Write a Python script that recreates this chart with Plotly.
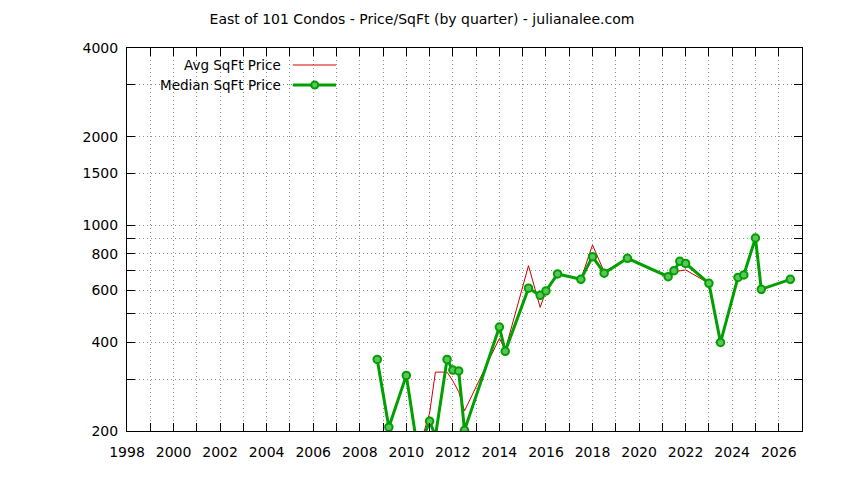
import plotly.graph_objects as go

# Quarter dates (decimal years) and price per sqft
quarters = [2008.75, 2009.25, 2010.0, 2010.5, 2011.0, 2011.25, 2011.75, 2012.0,
            2012.25, 2012.5, 2014.0, 2014.25, 2015.25, 2015.75, 2016.0, 2016.5,
            2017.5, 2018.0, 2018.5, 2019.5, 2021.25, 2021.5, 2021.75, 2022.0,
            2023.0, 2023.5, 2024.25, 2024.5, 2025.0, 2025.25, 2026.5]
median_price = [350, 206, 309, 170, 216, 192, 350, 322, 320, 201, 451, 373,
                611, 578, 598, 683, 655, 782, 687, 772, 669, 701, 754, 742,
                635, 400, 665, 678, 905, 606, 655]
avg_price = [350, 206, 309, 170, 230, 317, 317, 296, 272, 234, 413, 377,
             729, 526, 598, 683, 655, 857, 695, 772, 672, 692, 700, 705,
             635, 400, 665, 678, 905, 606, 655]

# tick labels
year_ticks = list(range(1998, 2028))
year_labels = [str(y) if y % 2 == 0 and y < 2027 else "" for y in year_ticks]
y_ticks = [200, 300, 400, 500, 600, 700, 800, 900, 1000, 1500, 2000, 3000, 4000]
y_labels = ["200", "", "400", "", "600", "", "800", "", "1000", "1500", "2000", "", "4000"]

FONT = "DejaVu Sans"
red = "#d40000"
green = "#00a000"

fig = go.Figure()

fig.add_trace(go.Scatter(
    x=quarters, y=avg_price, mode="lines", name="Avg SqFt Price",
    line=dict(color=red, width=1), showlegend=False,
))
fig.add_trace(go.Scatter(
    x=quarters, y=median_price, mode="lines+markers", name="Median SqFt Price",
    line=dict(color=green, width=3),
    marker=dict(size=7.5, color="#5cc45c", line=dict(color=green, width=2)),
    showlegend=False,
))

# gnuplot-style key: text on the left, sample on the right
key_rows = [("Avg SqFt Price", red, 1, False, 0.9556),
            ("Median SqFt Price", green, 3, True, 0.9034)]
for label, col, w, pt, ky in key_rows:
    fig.add_annotation(x=0.2313, y=ky, xref="paper", yref="paper", text=label,
                       showarrow=False, xanchor="right", yanchor="middle",
                       font=dict(family=FONT, size=13.5, color="black"))
    fig.add_shape(type="line", xref="paper", yref="paper", x0=0.2456, x1=0.3098,
                  y0=ky, y1=ky, line=dict(color=col, width=w))
    if pt:
        fig.add_shape(type="circle", xref="paper", yref="paper",
                      x0=0.2781 - 0.0052, x1=0.2781 + 0.0052,
                      y0=ky - 0.0091, y1=ky + 0.0091,
                      fillcolor="#5cc45c", line=dict(color=green, width=2))

# page body has an 8px margin, so the figure is sized to fit the window
fig.update_layout(
    width=836, height=472,
    margin=dict(l=118.5, r=42.3, t=40, b=49),
    paper_bgcolor="white", plot_bgcolor="white",
    font=dict(family=FONT, size=13.5, color="black"),
    title=dict(text="East of 101 Condos - Price/SqFt (by quarter) - julianalee.com",
               x=(422 - 8) / 836, xref="container", xanchor="center",
               y=1 - 11 / 472, yref="container", yanchor="middle",
               font=dict(family=FONT, size=14, color="black")),
)

fig.update_xaxes(
    range=[1998, 2027], tickmode="array", tickvals=year_ticks, ticktext=year_labels,
    ticks="inside", ticklen=8, tickcolor="black", showline=True, linecolor="black",
    linewidth=1, mirror="ticks", showgrid=True, gridcolor="#909090",
    griddash="1px,3px", gridwidth=1, zeroline=False, ticklabelstandoff=8,
    tickfont=dict(size=14),
)
fig.update_yaxes(
    type="log", range=[2.30103, 3.60206], tickmode="array", tickvals=y_ticks,
    ticktext=y_labels, ticks="inside", ticklen=8, tickcolor="black", showline=True,
    linecolor="black", linewidth=1, mirror="ticks", showgrid=True,
    gridcolor="#909090", griddash="1px,3px", gridwidth=1, zeroline=False,
    ticklabelstandoff=5, tickfont=dict(size=14),
)

fig.write_html("out.html")
